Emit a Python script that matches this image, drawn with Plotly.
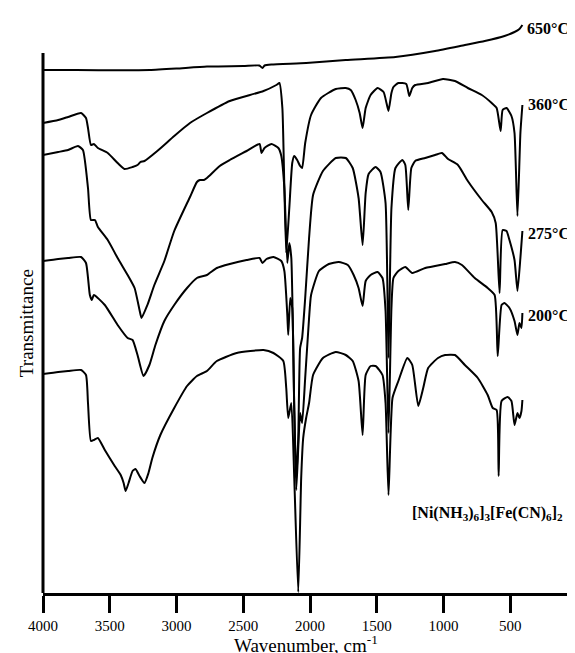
import plotly.graph_objects as go

# Wavenumber (cm-1) and transmittance (arbitrary, offset) for each spectrum
wn_650 = [4000, 3750, 3418, 3200, 3000, 2772, 2500, 2380, 2356, 2340, 2289, 2029, 1732, 1360, 1063, 840, 691, 543, 468, 431, 409]
t_650 = [523, 523, 522.7, 523, 524.5, 526.5, 527, 527.5, 525, 527.5, 528.5, 530, 533, 536, 542, 548, 552, 557, 561, 564, 568]

wn_360 = [4000, 3886, 3812, 3715, 3678, 3663, 3641, 3619, 3589, 3515, 3441, 3389, 3329, 3292, 3270, 3240,
          3144, 3017, 2899, 2772, 2601, 2348, 2252, 2229, 2207, 2192, 2178, 2155, 2133, 2118, 2096, 2074,
          2059, 2036, 1992, 1918, 1807, 1732, 1695, 1658, 1628, 1606, 1583, 1546, 1494, 1449, 1427, 1412,
          1390, 1375, 1338, 1279, 1256, 1234, 1212, 1115, 1004, 914, 818, 713, 639, 602, 572, 557, 528,
          491, 468, 446, 424, 409]
t_360 = [470, 473, 476, 480, 475, 465, 448, 449, 445, 440, 430, 424, 426, 428, 431, 432,
         442, 457, 470, 480, 492, 502, 508, 510, 485, 405, 340, 385, 430, 437, 433, 427,
         425, 450, 478, 495, 504, 505, 503, 493, 480, 465, 485, 498, 505, 501, 490, 482,
         500, 506, 510, 509, 497, 505, 508, 510, 514, 512, 505, 498, 490, 485, 462, 483, 485,
         477, 460, 377, 460, 488]

wn_275 = [4000, 3886, 3812, 3738, 3701, 3663, 3641, 3611, 3589, 3515, 3441, 3366, 3314, 3277, 3262, 3218,
          3166, 3091, 3017, 2899, 2847, 2825, 2795, 2772, 2676, 2601, 2475, 2378, 2363, 2341, 2289, 2237,
          2215, 2192, 2170, 2155, 2140, 2118, 2103, 2088, 2074, 2059, 2036, 2007, 1977, 1903, 1807, 1732,
          1680, 1636, 1606, 1583, 1561, 1509, 1472, 1434, 1412, 1390, 1360, 1308, 1286, 1264, 1241, 1212,
          1137, 1063, 1012, 966, 892, 818, 713, 639, 609, 580, 557, 528, 506, 468, 446, 424, 409]
t_275 = [438, 441, 443, 447, 443, 405, 373, 373, 366, 353, 335, 318, 305, 283, 275, 288,
         308, 332, 362, 396, 411, 413, 413, 415, 427, 433, 442, 449, 440, 445, 449, 445,
         437, 405, 330, 350, 335, 185, 115, 155, 245, 255, 295, 355, 398, 422, 435, 435,
         425, 395, 348, 400, 419, 426, 421, 390, 235, 385, 425, 433, 428, 383, 425, 432,
         435, 438, 440, 434, 428, 412, 393, 381, 370, 300, 363, 362, 353, 333, 302, 335, 362]

wn_200 = [4000, 3886, 3812, 3715, 3678, 3649, 3634, 3619, 3537, 3441, 3366, 3329, 3292, 3247, 3203, 3158,
          3091, 3017, 2921, 2847, 2772, 2698, 2601, 2475, 2378, 2356, 2326, 2274, 2215, 2192, 2170, 2163,
          2148, 2133, 2118, 2103, 2088, 2074, 2059, 2036, 2007, 1992, 1933, 1859, 1785, 1717, 1673, 1636,
          1606, 1583, 1546, 1494, 1457, 1434, 1412, 1390, 1375, 1338, 1286, 1234, 1137, 988, 914, 862,
          766, 669, 617, 594, 565, 543, 506, 468, 446, 431, 416, 409]
t_200 = [332, 334, 335, 336, 330, 298, 293, 298, 288, 268, 255, 253, 238, 217, 228, 248,
         272, 288, 305, 315, 318, 325, 329, 333, 335, 330, 334, 336, 332, 322, 278, 258,
         295, 285, 185, 103, 145, 180, 170, 215, 275, 298, 322, 329, 331, 328, 318, 305,
         287, 312, 318, 321, 315, 282, 160, 285, 315, 322, 326, 320, 325, 329, 331, 328,
         315, 305, 298, 237, 288, 290, 285, 272, 258, 270, 265, 280]

wn_pre = [4000, 3886, 3812, 3715, 3678, 3663, 3641, 3619, 3589, 3537, 3463, 3418, 3396, 3381, 3359, 3329,
          3307, 3277, 3240, 3210, 3181, 3121, 3017, 2921, 2847, 2772, 2698, 2549, 2348, 2274, 2200, 2178,
          2163, 2140, 2118, 2088, 2066, 2051, 2029, 2007, 1977, 1903, 1807, 1732, 1680, 1636, 1606, 1583,
          1546, 1509, 1457, 1434, 1412, 1382, 1338, 1271, 1234, 1189, 1152, 1115, 1041, 988, 914, 840,
          743, 669, 631, 602, 587, 565, 520, 491, 468, 446, 431, 416, 409]
t_pre = [219, 221, 222, 223, 218, 190, 152, 153, 155, 143, 127, 118, 110, 102, 110, 122,
         124, 117, 110, 120, 135, 158, 185, 207, 217, 222, 232, 240, 243, 240, 232, 205,
         175, 190, 115, 1, 115, 155, 175, 190, 218, 235, 241, 238, 232, 212, 158, 218,
         227, 227, 218, 190, 98, 195, 212, 235, 228, 187, 205, 225, 235, 238, 238, 228,
         215, 198, 185, 183, 117, 192, 196, 192, 168, 180, 175, 182, 193]

series = [
    ("650°C", wn_650, t_650),
    ("360°C", wn_360, t_360),
    ("275°C", wn_275, t_275),
    ("200°C", wn_200, t_200),
    ("precursor", wn_pre, t_pre),
]
x_ticks = [4000, 3500, 3000, 2500, 2000, 1500, 1000, 500, 0]

FONT = "Liberation Serif, Times New Roman, serif"

fig = go.Figure()
for name, xs, ys in series:
    fig.add_trace(go.Scatter(x=xs, y=ys, mode="lines", name=name,
                             line=dict(color="black", width=2, shape="spline", smoothing=0.5),
                             showlegend=False))

fig.update_layout(
    width=575, height=653,
    margin=dict(l=35, r=2, t=10, b=68),
    plot_bgcolor="white", paper_bgcolor="white",
    font=dict(family=FONT, color="black"),
    xaxis=dict(range=[4000, 0], tickvals=x_ticks, ticktext=[str(v) for v in x_ticks],
               showline=True, linecolor="black", linewidth=3,
               ticks="outside", ticklen=17, tickwidth=3, tickcolor="black",
               showgrid=False, zeroline=False, tickfont=dict(size=15, family=FONT),
               ticklabelstandoff=0, ticklabeloverflow="allow"),
    yaxis=dict(range=[0, 575], showticklabels=False, ticks="", showgrid=False,
               zeroline=False, showline=False),
)

fig.add_shape(type="line", xref="paper", yref="y", x0=0, x1=0, y0=0, y1=540,
              line=dict(color="black", width=3))

labels = [
    ("<b>650°C</b>", 0.905, 0.981),
    ("<b>360°C</b>", 0.907, 0.849),
    ("<b>275°C</b>", 0.906, 0.626),
    ("<b>200°C</b>", 0.907, 0.482),
    ("<b>[Ni(NH<sub>3</sub>)<sub>6</sub>]<sub>3</sub>[Fe(CN)<sub>6</sub>]<sub>2</sub></b>", 0.690, 0.139),
]
for txt, xp, yp in labels:
    fig.add_annotation(text=txt, xref="paper", yref="paper", x=xp, y=yp,
                       xanchor="left", yanchor="middle", showarrow=False, borderpad=0,
                       font=dict(size=16, family=FONT, color="black"))

fig.add_annotation(text="Wavenumber, cm<sup>-1</sup>", xref="paper", yref="paper",
                   x=(300 - 35) / 538, y=(585 - 649) / 575, xanchor="center", yanchor="bottom",
                   showarrow=False, borderpad=0, font=dict(size=19, family=FONT, color="black"))
fig.add_annotation(text="Transmittance", xref="paper", yref="paper",
                   x=(18 - 35) / 538, y=(585 - 315) / 575, xanchor="center", yanchor="middle",
                   textangle=-90, showarrow=False, font=dict(size=19, family=FONT, color="black"))

fig.write_html("out.html")
